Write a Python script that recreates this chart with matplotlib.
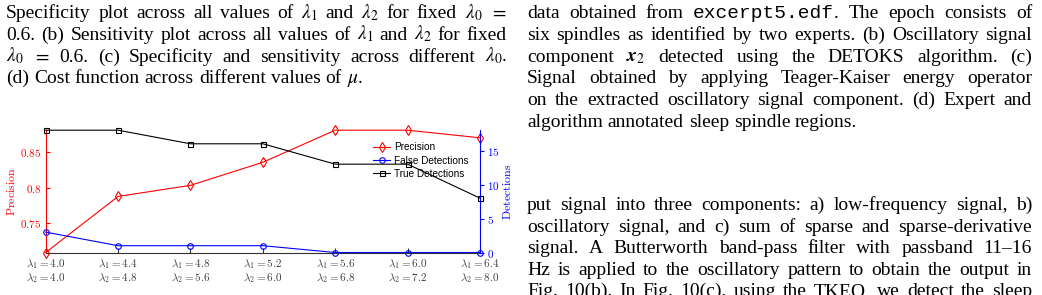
import matplotlib
matplotlib.use("Agg")
import matplotlib.pyplot as plt
from matplotlib.ticker import FuncFormatter

W, H = 1042, 295

# ---- chart data ----
lambda1 = [4.0, 4.4, 4.8, 5.2, 5.6, 6.0, 6.4]
lambda2 = [4.0, 4.8, 5.6, 6.0, 6.8, 7.2, 8.0]
precision = [0.7087, 0.7877, 0.8033, 0.8358, 0.8810, 0.8810, 0.8703]
false_detections = [3, 1, 1, 1, 0, 0, 0]
true_detections = [18, 18, 16, 16, 13, 13, 8]

precision_ticks = [0.75, 0.8, 0.85]
detection_ticks = [0, 5, 10, 15]

# ---- surrounding page text ----
left_caption = [
    r"Specificity plot across all values of $\lambda_1$ and $\lambda_2$ for fixed $\lambda_0$ $=$",
    r"0.6. (b) Sensitivity plot across all values of $\lambda_1$ and $\lambda_2$ for fixed",
    r"$\lambda_0$ $=$ 0.6. (c) Specificity and sensitivity across different $\lambda_0$.",
    r"(d) Cost function across different values of $\mu$.",
]
right_caption = [
    r"data obtained from `excerpt5.edf`. The epoch consists of",
    r"six spindles as identified by two experts. (b) Oscillatory signal",
    r"component $\mathbfit{x}_2$ detected using the DETOKS algorithm. (c)",
    r"Signal obtained by applying Teager-Kaiser energy operator",
    r"on the extracted oscillatory signal component. (d) Expert and",
    r"algorithm annotated sleep spindle regions.",
]
right_body = [
    r"put signal into three components: a) low-frequency signal, b)",
    r"oscillatory signal, and c) sum of sparse and sparse-derivative",
    r"signal. A Butterworth band-pass filter with passband 11–16",
    r"Hz is applied to the oscillatory pattern to obtain the output in",
    r"Fig. 10(b). In Fig. 10(c), using the TKEO, we detect the sleep",
]

plt.rcParams["mathtext.fontset"] = "cm"

BODY_SIZE = 14.0
SERIF = "Liberation Serif"
MONO = "Liberation Mono"


def make_word(fig, word):
    parts = []
    for i, seg in enumerate(word.split("`")):
        if not seg:
            continue
        fam = MONO if i % 2 else SERIF
        t = fig.text(0, 0, seg, family=fam, fontsize=BODY_SIZE,
                     math_fontfamily="stix", va="baseline", ha="left")
        parts.append(t)
    return parts


def measure(parts, renderer):
    total = 0
    for t in parts:
        try:
            total += t.get_window_extent(renderer).width
        except ValueError:
            t.set_text(t.get_text().replace(r"\mathbfit", r"\mathbf"))
            total += t.get_window_extent(renderer).width
    return total


def put_line(fig, renderer, line, x0, x1, baseline, justify=True):
    words = [make_word(fig, w) for w in line.split(" ")]
    widths = [measure(p, renderer) for p in words]
    gap = 4.9
    if justify and len(words) > 1:
        gap = (x1 - x0 - sum(widths)) / (len(words) - 1)
    x = x0
    for parts, w in zip(words, widths):
        xx = x
        for t in parts:
            t.set_position((xx / W, 1 - baseline / H))
            xx += t.get_window_extent(renderer).width
        x += w + gap


def put_paragraph(fig, renderer, lines, x0, x1, first_baseline, step, last_left=True):
    for i, line in enumerate(lines):
        last = last_left and i == len(lines) - 1
        put_line(fig, renderer, line, x0, x1, first_baseline + i * step,
                 justify=not last)


fig = plt.figure(figsize=(W / 100, H / 100), dpi=100)
renderer = fig.canvas.get_renderer()

put_paragraph(fig, renderer, left_caption, 6, 507, 18, 21.8)
put_paragraph(fig, renderer, right_caption, 527, 1032, 18, 21.8)
put_paragraph(fig, renderer, right_body, 527, 1032, 210, 21.6, last_left=False)

# ---- the chart ----
x_left, x_right, y_top, y_bot = 45.7, 480.0, 130.2, 252.5
ax = fig.add_axes([x_left / W, 1 - y_bot / H, (x_right - x_left) / W, (y_bot - y_top) / H])
ax2 = ax.twinx()

xs = list(range(len(lambda1)))
lw = 0.8

p_line, = ax.plot(xs, precision, color="red", lw=lw, marker="d", ms=4.6,
                  mfc="none", mew=0.8, clip_on=False, label="Precision")
f_line, = ax2.plot(xs, false_detections, color="blue", lw=lw, marker="o", ms=4.0,
                   mfc="none", mew=0.8, clip_on=False, label="False Detections")
t_line, = ax2.plot(xs, true_detections, color="black", lw=lw, marker="s", ms=3.6,
                   mfc="none", mew=0.8, clip_on=False, label="True Detections")

ax.set_xlim(0, len(lambda1) - 1)
ax.set_ylim(min(precision), max(precision))
ax2.set_ylim(0, max(true_detections))

ax.set_xticks(xs)
ax.set_xticklabels([f"$\\lambda_1 = {a:.1f}$\n$\\lambda_2 = {b:.1f}$"
                    for a, b in zip(lambda1, lambda2)],
                   fontsize=8, color="#404040", linespacing=1.1)
ax.tick_params(axis="x", direction="in", length=3.5, width=0.8, color="#333333", pad=3)

ax.set_yticks(precision_ticks)
ax.yaxis.set_major_formatter(FuncFormatter(lambda v, p: f"${v:g}$"))
ax.tick_params(axis="y", direction="in", length=3, width=0.8, color="red",
               labelcolor="red", labelsize=8, pad=3)
ax.set_ylabel(r"$\mathrm{Precision}$", color="red", fontsize=8.6, labelpad=2)

ax2.set_yticks(detection_ticks)
ax2.yaxis.set_major_formatter(FuncFormatter(lambda v, p: f"${v:g}$"))
ax2.tick_params(axis="y", direction="out", length=3, width=0.8, color="blue",
                labelcolor="blue", labelsize=8, pad=2)
ax2.set_ylabel(r"$\mathrm{Detections}$", color="blue", fontsize=8.6, labelpad=1)

for a in (ax, ax2):
    a.spines["top"].set_visible(False)
    a.patch.set_visible(False)
ax.spines["left"].set_color("red")
ax.spines["right"].set_visible(False)
ax.spines["bottom"].set_color("#333333")
ax2.spines["left"].set_visible(False)
ax2.spines["bottom"].set_visible(False)
ax2.spines["right"].set_color("blue")
for s in list(ax.spines.values()) + list(ax2.spines.values()):
    s.set_linewidth(0.8)

leg = ax2.legend(handles=[p_line, f_line, t_line], loc="upper left",
                 bbox_to_anchor=(0.754, 0.90), frameon=False,
                 prop={"family": "Liberation Sans", "size": 7.2},
                 handlelength=1.7, handletextpad=0.4, labelspacing=0.32,
                 borderpad=0, borderaxespad=0)

fig.savefig("out.png", dpi=100)
